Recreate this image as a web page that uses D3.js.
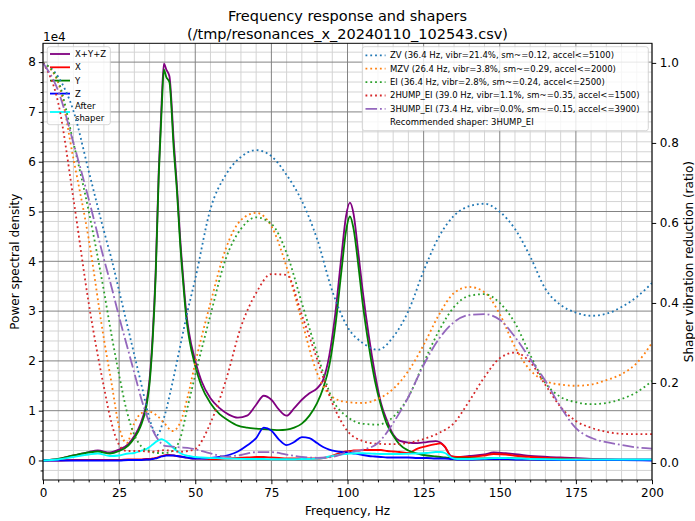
<!DOCTYPE html>
<html><head><meta charset="utf-8">
<script src="https://cdn.jsdelivr.net/npm/d3@7"></script>
<style>
body{margin:0;background:#fff}
text{font-family:"DejaVu Sans",sans-serif;fill:#000}
</style>
</head><body>
<svg id="chart" width="695" height="521"></svg>
<script>
// ---------- DATA ----------
const titleLines = ["Frequency response and shapers", "(/tmp/resonances_x_20240110_102543.csv)"];
const xTicks = [0, 25, 50, 75, 100, 125, 150, 175, 200];
const leftTicks = [0, 1, 2, 3, 4, 5, 6, 7, 8];          // x 1e4
const rightTicks = [0.0, 0.2, 0.4, 0.6, 0.8, 1.0];

const psdFreqs = [0,5,10,15,18,22,25,28,30,32,34,35,36,37,38,39,39.7,40.5,41.5,43,44,45,46,47,48,50,52,55,58,61,64,67,70,72.5,75,77.5,80,82.5,85,87.5,90,92,94,96,98,99.5,100.8,102,103.5,105,107,109,111,113,115,117,120,123,126,129,130.5,132,134,136,140,145,148,152,156,160,170,180,190,200];
const psdXYZ = [0,0.03,0.1,0.17,0.2, 0.16,0.22,0.33,0.49,0.73, 1.17,1.63,2.5,3.8,5.8, 7.25,7.97,7.85,7.72,6.35, 5.5,4.5,3.7,3.0,2.55, 2.0,1.6,1.25,1.05,0.92, 0.86,0.9,1.12,1.3,1.22, 1.02,0.9,1.05,1.22,1.35, 1.45,1.62,2.1,2.95,4.1, 4.9,5.18,4.95,4.2,3.4, 2.5,1.75,1.15,0.8,0.52, 0.4,0.36,0.35,0.37,0.39, 0.36,0.27,0.09,0.07,0.09, 0.12,0.16,0.145,0.12,0.09, 0.06,0.03,0.02,0.02];
const psdX = [0,0,0.01,0.01,0.01, 0.01,0.01,0.02,0.02,0.02, 0.03,0.03,0.04,0.05,0.07, 0.09,0.1,0.11,0.11,0.1, 0.09,0.08,0.07,0.06,0.05, 0.04,0.04,0.03,0.03,0.04, 0.05,0.06,0.07,0.07,0.06, 0.05,0.04,0.04,0.04,0.04, 0.04,0.05,0.07,0.12,0.16, 0.18,0.19,0.2,0.2,0.21, 0.21,0.21,0.21,0.19,0.18, 0.17,0.15,0.24,0.29,0.33, 0.345,0.28,0.08,0.07,0.07, 0.1,0.13,0.12,0.09,0.07, 0.04,0.02,0.01,0.01];
const psdY = [0,0.03,0.1,0.16,0.18, 0.14,0.19,0.3,0.45,0.68, 1.1,1.55,2.4,3.7,5.7, 7.1,7.85,7.7,7.6,6.2, 5.4,4.4,3.6,2.9,2.45, 1.9,1.5,1.15,0.93,0.8, 0.7,0.66,0.64,0.63,0.62, 0.61,0.62,0.66,0.74,0.9, 1.15,1.45,1.9,2.7,3.8, 4.6,4.9,4.65,3.95,3.15, 2.3,1.6,1.1,0.72,0.5, 0.33,0.2,0.14,0.1,0.08, 0.07,0.06,0.05,0.04,0.04, 0.04,0.05,0.05,0.04,0.03, 0.02,0.01,0.01,0.01];
const psdZ = [0,0,0,0,0, 0,0,0.01,0.01,0.01, 0.02,0.02,0.03,0.04,0.06, 0.08,0.09,0.1,0.1,0.1, 0.09,0.08,0.07,0.06,0.05, 0.04,0.04,0.05,0.07,0.11, 0.18,0.3,0.45,0.66,0.6, 0.42,0.31,0.37,0.47,0.45, 0.35,0.27,0.22,0.19,0.17, 0.16,0.15,0.14,0.13,0.11, 0.09,0.08,0.07,0.06,0.06, 0.06,0.06,0.05,0.05,0.04, 0.04,0.04,0.03,0.02,0.02, 0.03,0.03,0.03,0.02,0.02, 0.01,0.01,0.01,0];
const psdAfter = [0,0.02,0.07,0.12,0.14, 0.09,0.1,0.14,0.15,0.19, 0.23,0.27,0.32,0.37,0.41, 0.43,0.41,0.38,0.33,0.24, 0.19,0.15,0.12,0.1,0.09, 0.07,0.06,0.05,0.045,0.04, 0.035,0.03,0.03,0.03,0.025, 0.025,0.025,0.025,0.03,0.03, 0.04,0.05,0.08,0.1,0.12, 0.13,0.14,0.14,0.145,0.145, 0.14,0.135,0.13,0.13,0.13, 0.13,0.135,0.14,0.15,0.17, 0.17,0.15,0.06,0.03,0.03, 0.04,0.05,0.05,0.04,0.03, 0.02,0.02,0.02,0.02];

const shaperFreqs = [0,5,10,15,20,22.5,25,27.5,30,32.5,35,37.5,40,42.5,45,47.5,50,55,60,65,70,75,80,85,90,95,100,105,110,115,120,125,130,135,140,145,150,155,160,165,170,175,180,185,190,195,200];
const zvVals = [1.0,0.965,0.88,0.73,0.58, 0.51,0.43,0.35,0.27,0.19, 0.11,0.07,0.12,0.2,0.29, 0.38,0.46,0.635,0.72,0.765, 0.782,0.767,0.72,0.655,0.56, 0.43,0.34,0.3,0.283,0.315, 0.38,0.48,0.565,0.618,0.642, 0.648,0.628,0.585,0.516,0.435, 0.395,0.376,0.368,0.373,0.39, 0.415,0.45];
const mzvVals = [1.0,0.95,0.76,0.56,0.31, 0.2,0.09,0.05,0.1,0.125, 0.128,0.118,0.098,0.08,0.1, 0.165,0.25,0.4,0.535,0.607, 0.625,0.592,0.49,0.355,0.225, 0.165,0.152,0.15,0.16,0.185, 0.23,0.295,0.37,0.425,0.44, 0.427,0.372,0.29,0.232,0.205, 0.196,0.193,0.196,0.207,0.222, 0.25,0.3];
const eiVals = [1.0,0.955,0.8,0.63,0.43, 0.32,0.22,0.13,0.07,0.04, 0.03,0.025,0.025,0.03,0.06, 0.14,0.22,0.37,0.51,0.585, 0.614,0.598,0.525,0.4,0.275, 0.16,0.115,0.098,0.096,0.115, 0.165,0.25,0.33,0.39,0.418, 0.422,0.4,0.35,0.27,0.2, 0.165,0.152,0.147,0.15,0.16, 0.177,0.205];
const hump2Vals = [1.0,0.9,0.66,0.4,0.19, 0.1,0.045,0.03,0.03,0.03, 0.028,0.03,0.032,0.03,0.028, 0.03,0.035,0.1,0.205,0.34, 0.425,0.472,0.47,0.37,0.26, 0.15,0.08,0.055,0.048,0.047, 0.05,0.06,0.075,0.1,0.155, 0.215,0.262,0.276,0.252,0.195, 0.14,0.105,0.088,0.078,0.073, 0.072,0.072];
const hump3Vals = [1.0,0.93,0.8,0.66,0.51, 0.44,0.365,0.295,0.225,0.155, 0.1,0.062,0.043,0.041,0.039, 0.038,0.034,0.024,0.016,0.02, 0.027,0.027,0.021,0.015,0.013, 0.015,0.027,0.033,0.05,0.1, 0.165,0.245,0.31,0.352,0.37, 0.372,0.358,0.315,0.26,0.205, 0.14,0.087,0.063,0.052,0.045, 0.039,0.036];

const psdSeries = [
  {label: "X+Y+Z", values: psdXYZ, color: "#800080"},
  {label: "X", values: psdX, color: "#ff0000"},
  {label: "Y", values: psdY, color: "#008000"},
  {label: "Z", values: psdZ, color: "#0000ff"},
  {label: "After\nshaper", values: psdAfter, color: "#00ffff"}
];
const shaperSeries = [
  {label: "ZV (36.4 Hz, vibr=21.4%, sm~=0.12, accel<=5100)", values: zvVals, color: "#1f77b4", style: "dotted"},
  {label: "MZV (26.4 Hz, vibr=3.8%, sm~=0.29, accel<=2000)", values: mzvVals, color: "#ff7f0e", style: "dotted"},
  {label: "EI (36.4 Hz, vibr=2.8%, sm~=0.24, accel<=2500)", values: eiVals, color: "#2ca02c", style: "dotted"},
  {label: "2HUMP_EI (39.0 Hz, vibr=1.1%, sm~=0.35, accel<=1500)", values: hump2Vals, color: "#d62728", style: "dotted"},
  {label: "3HUMP_EI (73.4 Hz, vibr=0.0%, sm~=0.15, accel<=3900)", values: hump3Vals, color: "#9467bd", style: "dashdot"}
];
const recommended = "Recommended shaper: 3HUMP_EI";

// ---------- LAYOUT ----------
const svg = d3.select("#chart");
const L = 43, R = 652, T = 43.3, B = 480;
const lw = 1.81;
const dash = {dotted: `${lw},${lw*1.65}`, dashdot: `${lw*6.4},${lw*1.6},${lw},${lw*1.6}`, solid: null};

const x = d3.scaleLinear().domain([0, 200]).range([L, R]);
const yL = d3.scaleLinear().domain([-0.392, 8.378]).range([B, T]);
const yR = d3.scaleLinear().domain([-0.0425, 1.049]).range([B, T]);

// grid
const g = svg.append("g");
const minorX = d3.range(0, 201, 5).filter(v => v % 25 !== 0);
const minorY = d3.range(-2, 42).map(i => i * 0.2).filter(v => Math.abs(v - Math.round(v)) > 1e-6 && v > -0.392 && v < 8.378);
g.selectAll(".mx").data(minorX).join("line").attr("x1", d => x(d)).attr("x2", d => x(d)).attr("y1", T).attr("y2", B).attr("stroke", "#d3d3d3").attr("stroke-width", 0.97);
g.selectAll(".my").data(minorY).join("line").attr("x1", L).attr("x2", R).attr("y1", d => yL(d)).attr("y2", d => yL(d)).attr("stroke", "#d3d3d3").attr("stroke-width", 0.97);
g.selectAll(".Mx").data(xTicks).join("line").attr("x1", d => x(d)).attr("x2", d => x(d)).attr("y1", T).attr("y2", B).attr("stroke", "#808080").attr("stroke-width", 0.97);
g.selectAll(".My").data(leftTicks).join("line").attr("x1", L).attr("x2", R).attr("y1", d => yL(d)).attr("y2", d => yL(d)).attr("stroke", "#808080").attr("stroke-width", 0.97);

// clip
svg.append("defs").append("clipPath").attr("id", "clip").append("rect").attr("x", L).attr("y", T).attr("width", R - L).attr("height", B - T);

// psd lines
const psdLine = d3.line().x((d, i) => x(psdFreqs[i])).y(d => yL(d)).curve(d3.curveMonotoneX);
const pg = svg.append("g").attr("clip-path", "url(#clip)");
psdSeries.forEach(s => {
  pg.append("path").datum(s.values).attr("d", psdLine).attr("fill", "none").attr("stroke", s.color).attr("stroke-width", lw).attr("stroke-linejoin", "round").attr("stroke-linecap", "butt");
});

// left legend (below shaper lines since it belongs to the lower axes)
const lg = svg.append("g");
lg.append("rect").attr("x", 47.3).attr("y", 46.7).attr("width", 63).attr("height", 78).attr("rx", 2.5)
  .attr("fill", "#fff").attr("fill-opacity", 0.8).attr("stroke", "#cccccc").attr("stroke-width", 0.8);
const leftRows = [54, 67.3, 80.6, 93.6, 112];
psdSeries.forEach((s, i) => {
  const yy = leftRows[i];
  lg.append("line").attr("x1", 50).attr("x2", 70).attr("y1", yy).attr("y2", yy).attr("stroke", s.color).attr("stroke-width", lw);
  const parts = s.label.split("\n");
  parts.forEach((p, j) => {
    lg.append("text").attr("x", 75).attr("y", yy + (j - (parts.length - 1) / 2) * 11.2).attr("dy", "0.35em")
      .attr("font-size", "8.5px").text(p);
  });
});

// shaper lines
const shLine = d3.line().x((d, i) => x(shaperFreqs[i])).y(d => yR(d)).curve(d3.curveMonotoneX);
const sg = svg.append("g").attr("clip-path", "url(#clip)");
shaperSeries.forEach(s => {
  sg.append("path").datum(s.values).attr("d", shLine).attr("fill", "none").attr("stroke", s.color).attr("stroke-width", lw).attr("stroke-dasharray", dash[s.style]).attr("stroke-linecap", "butt");
});

// axes
const axB = svg.append("g").attr("transform", `translate(0,${B})`)
  .call(d3.axisBottom(x).tickValues(xTicks).tickFormat(d3.format("d")).tickSize(4.2).tickPadding(4).tickSizeOuter(0));
const axBm = svg.append("g").attr("transform", `translate(0,${B})`)
  .call(d3.axisBottom(x).tickValues(minorX).tickFormat("").tickSize(2.4).tickSizeOuter(0));
const axL = svg.append("g").attr("transform", `translate(${L},0)`)
  .call(d3.axisLeft(yL).tickValues(leftTicks).tickFormat(d3.format("d")).tickSize(4.2).tickPadding(3).tickSizeOuter(0));
const axLm = svg.append("g").attr("transform", `translate(${L},0)`)
  .call(d3.axisLeft(yL).tickValues(minorY).tickFormat("").tickSize(2.4).tickSizeOuter(0));
const axR = svg.append("g").attr("transform", `translate(${R},0)`)
  .call(d3.axisRight(yR).tickValues(rightTicks).tickFormat(d3.format(".1f")).tickSize(4.2).tickPadding(3.5).tickSizeOuter(0));
[axB, axBm, axL, axLm, axR].forEach(a => {
  a.select(".domain").remove();
  a.selectAll("line").attr("stroke", "#000").attr("stroke-width", 0.97);
  a.selectAll("text").attr("font-size", "12px").attr("font-family", "DejaVu Sans").attr("fill", "#000");
});
// frame
svg.append("rect").attr("x", L).attr("y", T).attr("width", R - L).attr("height", B - T).attr("fill", "none").attr("stroke", "#000").attr("stroke-width", 0.97);

// texts
svg.append("text").attr("x", 347.5).attr("y", 21).attr("text-anchor", "middle").attr("font-size", "14.5px").text(titleLines[0]);
svg.append("text").attr("x", 347.5).attr("y", 38.5).attr("text-anchor", "middle").attr("font-size", "14.5px").text(titleLines[1]);
svg.append("text").attr("x", 43).attr("y", 40.5).attr("font-size", "12px").text("1e4");
svg.append("text").attr("x", (L + R) / 2).attr("y", 514.5).attr("text-anchor", "middle").attr("font-size", "12px").text("Frequency, Hz");
svg.append("text").attr("transform", `translate(15,${(T + B) / 2}) rotate(-90)`).attr("text-anchor", "middle").attr("dy", "0.35em").attr("font-size", "12px").text("Power spectral density");
svg.append("text").attr("transform", `translate(688.5,${(T + B) / 2}) rotate(-90)`).attr("text-anchor", "middle").attr("dy", "0.35em").attr("font-size", "12px").text("Shaper vibration reduction (ratio)");

// right legend
const rg = svg.append("g");
rg.append("rect").attr("x", 362.3).attr("y", 46.7).attr("width", 286).attr("height", 84).attr("rx", 2.5)
  .attr("fill", "#fff").attr("fill-opacity", 0.8).attr("stroke", "#cccccc").attr("stroke-width", 0.8);
const rowY = i => 55.3 + i * 13.4;
shaperSeries.forEach((s, i) => {
  rg.append("line").attr("x1", 365.5).attr("x2", 385.5).attr("y1", rowY(i)).attr("y2", rowY(i))
    .attr("stroke", s.color).attr("stroke-width", lw).attr("stroke-dasharray", dash[s.style]);
  rg.append("text").attr("x", 390).attr("y", rowY(i)).attr("dy", "0.35em").attr("font-size", "8.5px").text(s.label);
});
rg.append("text").attr("x", 390).attr("y", rowY(5)).attr("dy", "0.35em").attr("font-size", "8.5px").text(recommended);
</script>
</body></html>
